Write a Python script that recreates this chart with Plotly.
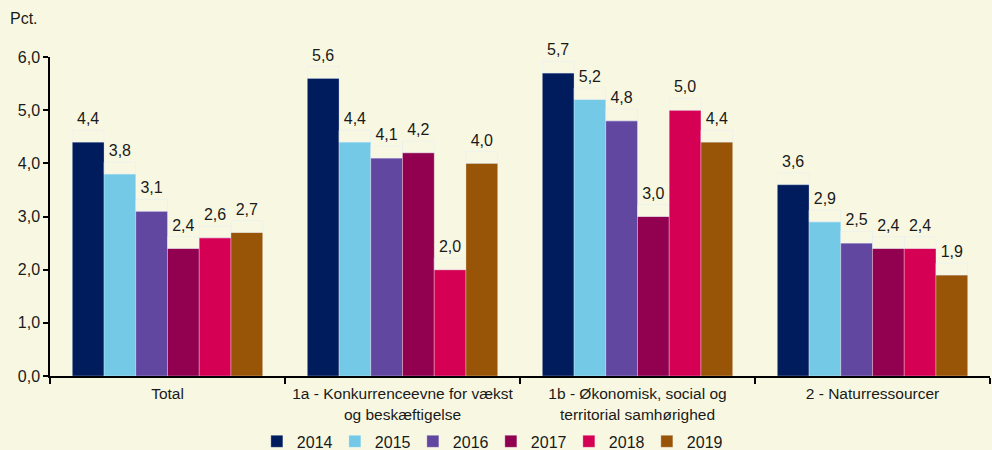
import plotly.graph_objects as go

categories = [
    "Total",
    "1a - Konkurrenceevne for vækst<br>og beskæftigelse",
    "1b - Økonomisk, social og<br>territorial samhørighed",
    "2 - Naturressourcer",
]
years = ["2014", "2015", "2016", "2017", "2018", "2019"]
values = {
    "2014": [4.4, 5.6, 5.7, 3.6],
    "2015": [3.8, 4.4, 5.2, 2.9],
    "2016": [3.1, 4.1, 4.8, 2.5],
    "2017": [2.4, 4.2, 3.0, 2.4],
    "2018": [2.6, 2.0, 5.0, 2.4],
    "2019": [2.7, 4.0, 4.4, 1.9],
}
colors = ["#001C5C", "#74C9E6", "#6247A1", "#920050", "#D50054", "#995507"]

BG = "#F8F8E2"
FONT = "Liberation Sans, Arial, sans-serif"
LABEL_GAP = 0.22  # empty space (in pct.) between bar top and value label

fig = go.Figure()
for year, color in zip(years, colors):
    fig.add_trace(go.Bar(
        name=year,
        x=categories,
        y=values[year],
        offsetgroup=year,
        marker=dict(color=color, line=dict(width=0.6, color="rgba(255,255,255,0.5)")),
        hovertemplate=year + ": %{y:.1f}<extra></extra>",
    ))
    # transparent spacer bar on top carrying the value label
    fig.add_trace(go.Bar(
        x=categories,
        y=[LABEL_GAP] * len(categories),
        base=values[year],
        offsetgroup=year,
        marker=dict(color="rgba(0,0,0,0)"),
        text=[f"{v:.1f}".replace(".", ",") for v in values[year]],
        textposition="outside",
        textfont=dict(size=16, color="#1a1a1a"),
        cliponaxis=False,
        showlegend=False,
        hoverinfo="skip",
    ))

fig.update_layout(
    width=992,
    height=450,
    paper_bgcolor=BG,
    plot_bgcolor=BG,
    font=dict(family=FONT, size=16, color="#1a1a1a"),
    separators=",.",
    barmode="group",
    bargap=0.19,
    bargroupgap=0,
    margin=dict(l=50, r=2, t=57, b=74, autoexpand=False),
    showlegend=True,
    legend=dict(
        orientation="h",
        x=0.469,
        xanchor="center",
        y=-0.205,
        yanchor="middle",
        font=dict(size=16),
        entrywidth=33,
        itemwidth=30,
        bgcolor="rgba(0,0,0,0)",
    ),
    xaxis=dict(
        showline=True,
        linecolor="black",
        linewidth=1.5,
        ticks="outside",
        tickson="boundaries",
        ticklen=6,
        tickwidth=1.5,
        tickcolor="black",
        showgrid=False,
        tickangle=0,
        ticklabelstandoff=3,
        tickfont=dict(size=15.5),
    ),
    yaxis=dict(
        range=[0, 6],
        dtick=1,
        tickformat=".1f",
        showline=True,
        linecolor="black",
        linewidth=1.5,
        ticks="outside",
        ticklen=5,
        tickwidth=1.5,
        tickcolor="black",
        showgrid=False,
        zeroline=False,
        tickfont=dict(size=16),
    ),
)

fig.add_annotation(
    text="Pct.",
    xref="paper", yref="paper",
    x=-0.028, y=1.122,
    xanchor="center", yanchor="middle",
    showarrow=False,
    font=dict(size=16),
)

fig.write_html(
    "out.html",
    config={"displayModeBar": False},
    post_script="document.body.style.margin='0px';",
)
